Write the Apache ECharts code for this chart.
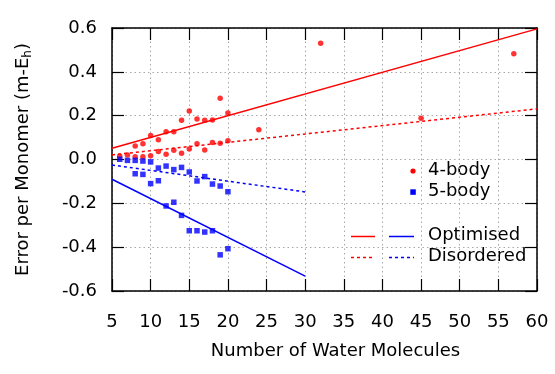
<!DOCTYPE html>
<html><head><meta charset="utf-8">
<script src="https://cdn.jsdelivr.net/npm/echarts@6/dist/echarts.min.js"></script>
<style>html,body{margin:0;padding:0;background:#fff}#c{width:555px;height:374px}</style>
</head><body><div id="c"></div>
<script>
// ---- data ----
const xTicks = [5,10,15,20,25,30,35,40,45,50,55,60];
const yTicks = [-0.6,-0.4,-0.2,0.0,0.2,0.4,0.6];

const body4Upper_x = [8,9,10,11,12,13,14,15,16,17,18,19,20,24,32,57];
const body4Upper_y = [0.062,0.072,0.110,0.090,0.127,0.127,0.179,0.221,0.185,0.179,0.180,0.279,0.212,0.136,0.530,0.482];
const body4Lower_x = [6,7,8,9,10,11,12,13,14,15,16,17,18,19,20,45];
const body4Lower_y = [0.016,0.021,0.013,0.013,0.017,0.036,0.024,0.042,0.028,0.048,0.072,0.043,0.077,0.074,0.086,0.188];

const body5Upper_x = [6,7,8,9,10,11,12,13,14,15,16,17,18,19,20];
const body5Upper_y = [0.001,-0.004,-0.004,-0.007,-0.011,-0.039,-0.030,-0.046,-0.036,-0.057,-0.098,-0.078,-0.112,-0.121,-0.147];
const body5Lower_x = [8,9,10,11,12,13,14,15,16,17,18,19,20];
const body5Lower_y = [-0.065,-0.068,-0.110,-0.097,-0.212,-0.195,-0.255,-0.325,-0.325,-0.331,-0.325,-0.435,-0.407];

const fit4Opt_x = [5,60];  const fit4Opt_y = [0.051,0.596];
const fit4Dis_x = [5,60];  const fit4Dis_y = [0.021,0.231];
const fit5Opt_x = [5,30];  const fit5Opt_y = [-0.090,-0.532];
const fit5Dis_x = [5,30];  const fit5Dis_y = [-0.025,-0.148];

const xTitle = 'Number of Water Molecules';
const legendLabels = ['4-body','5-body','Optimised','Disordered'];

// ---- build ----
const zip = (a,b) => a.map((v,i)=>[v,b[i]]);
const RED = '#ff0000', BLUE = '#0000ff';
const FONT = 'DejaVu Sans';

const chart = echarts.init(document.getElementById('c'), null, {renderer:'canvas'});
const axisLine = {show:true, onZero:false, lineStyle:{color:'#000', width:1.5}};
const tick = {show:true, inside:true, length:12, lineStyle:{color:'#000', width:1.2}};
const split = {show:true, lineStyle:{color:'#a8a8a8', width:1, type:[1.5,3]}};

chart.setOption({
  animation:false,
  backgroundColor:'#fff',
  grid:{left:112, right:18, top:28, bottom:83},
  xAxis:[{
    type:'value', min:5, max:60, interval:5, position:'bottom',
    axisLine, axisTick:tick, splitLine:split,
    axisLabel:{fontFamily:FONT, fontSize:18, color:'#000', margin:22},
    name:xTitle, nameLocation:'middle', nameGap:51,
    nameTextStyle:{fontFamily:FONT, fontSize:18, color:'#000', padding:[0,0,0,22]}
  },{
    type:'value', min:5, max:60, interval:5, position:'top',
    axisLine, axisTick:tick, splitLine:{show:false}, axisLabel:{show:false}
  }],
  yAxis:[{
    type:'value', min:-0.6, max:0.6, interval:0.2, position:'left',
    axisLine, axisTick:tick, splitLine:split,
    axisLabel:{fontFamily:FONT, fontSize:18, color:'#000', margin:15,
      formatter:v=>v.toFixed(1)},
    name:'{n|Error per Monomer (m-E}{s|h}{n|)}', nameLocation:'middle', nameGap:78, nameRotate:90,
    nameTextStyle:{fontFamily:FONT, fontSize:18, color:'#000',
      rich:{
        n:{fontFamily:FONT, fontSize:18, color:'#000'},
        s:{fontFamily:FONT, fontSize:12, color:'#000', padding:[10,0,0,0]}
      }}
  },{
    type:'value', min:-0.6, max:0.6, interval:0.2, position:'right',
    axisLine, axisTick:tick, splitLine:{show:false}, axisLabel:{show:false}
  }],
  series:[
    {name:'Optimised4', type:'line', data:zip(fit4Opt_x,fit4Opt_y), symbol:'none', lineStyle:{color:RED, width:1.5}, z:2},
    {name:'Disordered4', type:'line', data:zip(fit4Dis_x,fit4Dis_y), symbol:'none', lineStyle:{color:RED, width:1.5, type:[3,3]}, z:2},
    {name:'Optimised5', type:'line', data:zip(fit5Opt_x,fit5Opt_y), symbol:'none', lineStyle:{color:BLUE, width:1.5}, z:2},
    {name:'Disordered5', type:'line', data:zip(fit5Dis_x,fit5Dis_y), symbol:'none', lineStyle:{color:BLUE, width:1.5, type:[3,3]}, z:2},
    {name:'4-body', type:'scatter', data:zip(body4Upper_x,body4Upper_y).concat(zip(body4Lower_x,body4Lower_y)),
      symbol:'circle', symbolSize:5.5, itemStyle:{color:RED}, z:3},
    {name:'5-body', type:'scatter', data:zip(body5Upper_x,body5Upper_y).concat(zip(body5Lower_x,body5Lower_y)),
      symbol:'rect', symbolSize:5.5, itemStyle:{color:BLUE}, z:3}
  ],
  graphic:[
    {type:'circle', shape:{cx:413, cy:171, r:2.6}, style:{fill:RED}},
    {type:'rect', shape:{x:410.3, y:189.3, width:5.5, height:5.5}, style:{fill:BLUE}},
    {type:'line', shape:{x1:351, y1:236.5, x2:375, y2:236.5}, style:{stroke:RED, lineWidth:1.5}},
    {type:'line', shape:{x1:389, y1:236.5, x2:414, y2:236.5}, style:{stroke:BLUE, lineWidth:1.5}},
    {type:'line', shape:{x1:351, y1:257.5, x2:375, y2:257.5}, style:{stroke:RED, lineWidth:1.5, lineDash:[3,3]}},
    {type:'line', shape:{x1:389, y1:257.5, x2:414, y2:257.5}, style:{stroke:BLUE, lineWidth:1.5, lineDash:[3,3]}},
    {type:'text', left:428, top:161, style:{text:legendLabels[0], font:'18px "DejaVu Sans"', fill:'#000'}},
    {type:'text', left:428, top:182, style:{text:legendLabels[1], font:'18px "DejaVu Sans"', fill:'#000'}},
    {type:'text', left:428, top:226, style:{text:legendLabels[2], font:'18px "DejaVu Sans"', fill:'#000'}},
    {type:'text', left:428, top:247, style:{text:legendLabels[3], font:'18px "DejaVu Sans"', fill:'#000'}}
  ]
});
</script></body></html>
